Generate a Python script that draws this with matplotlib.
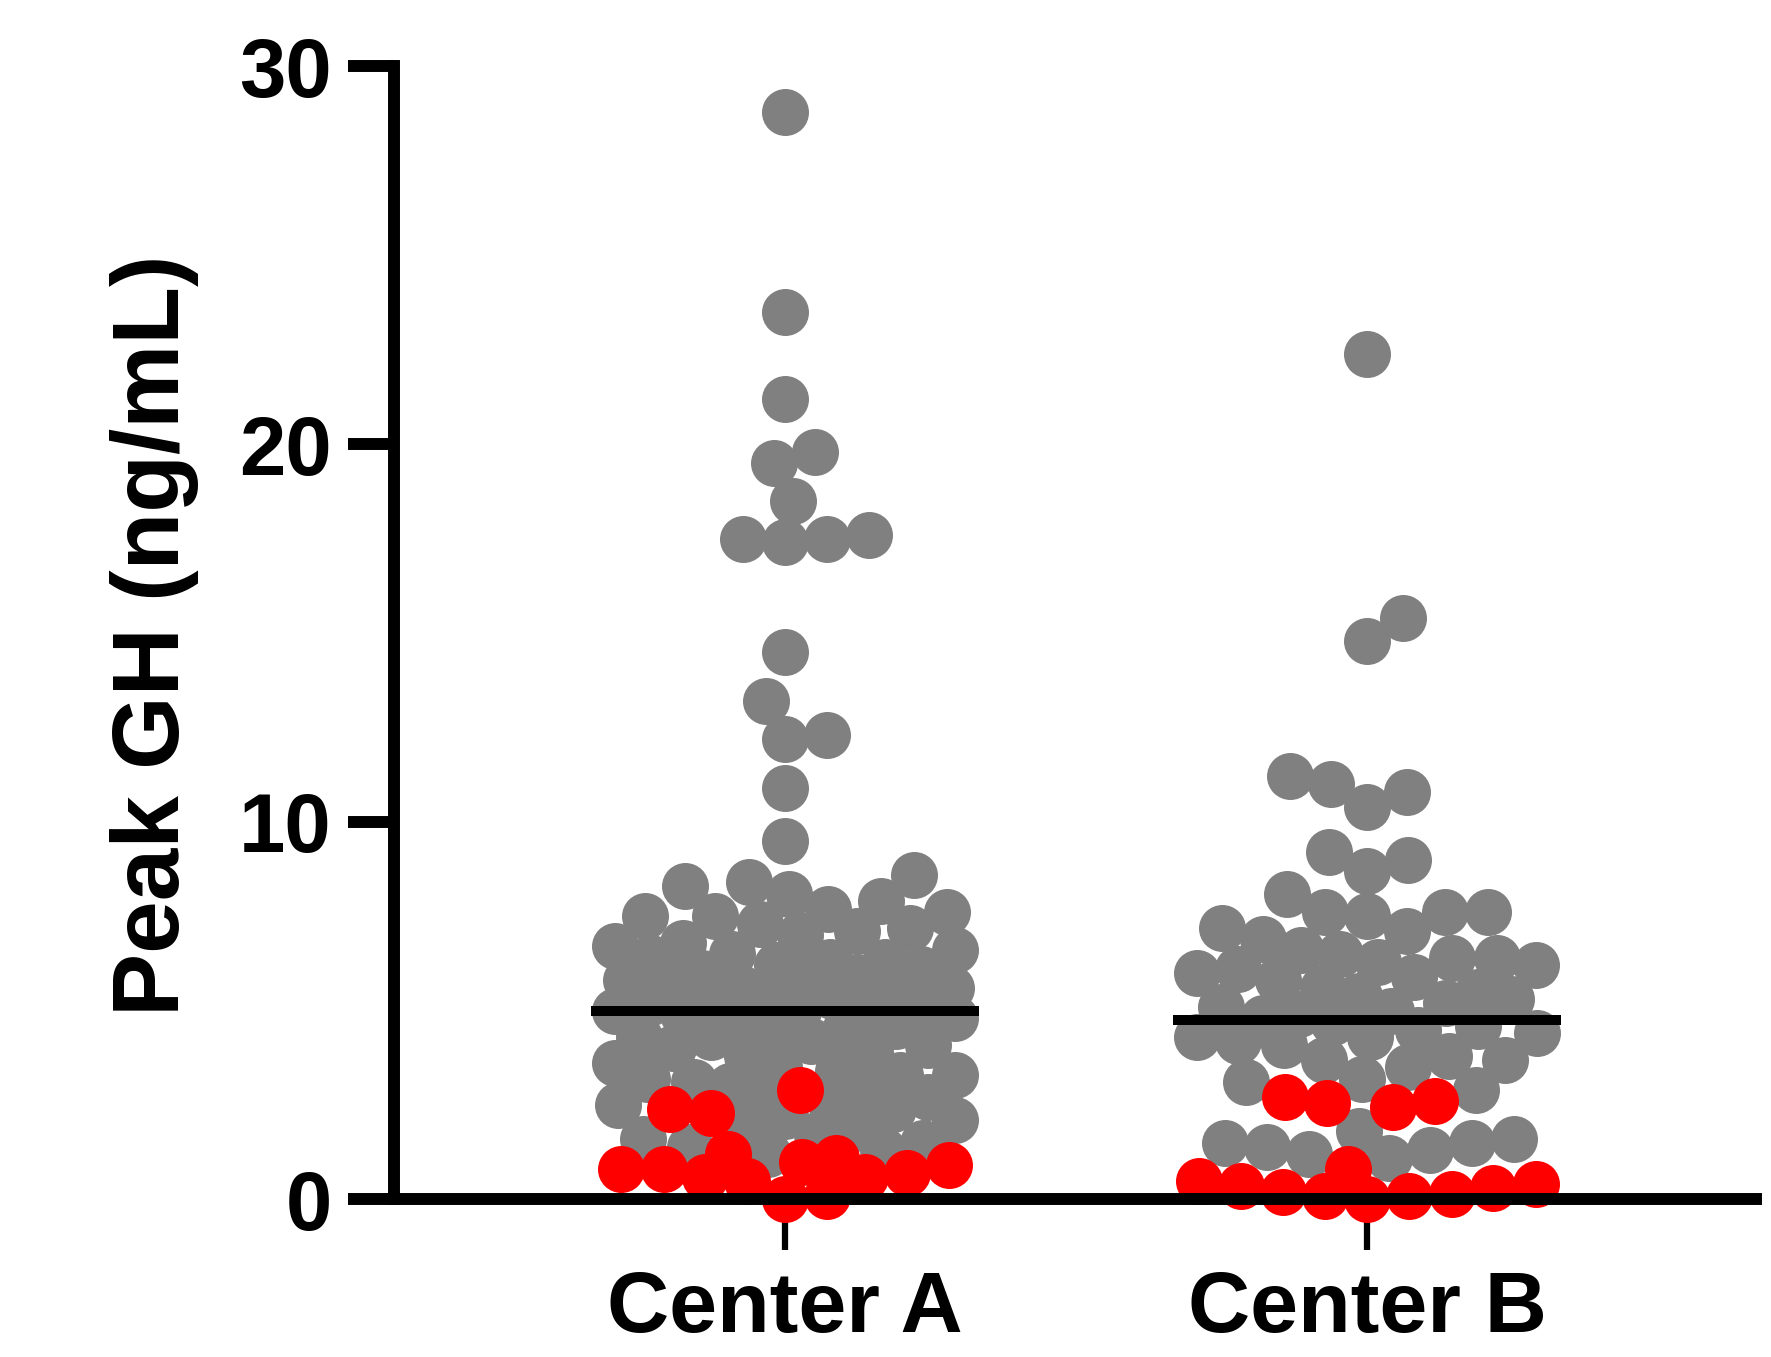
import numpy as np
import matplotlib
matplotlib.use("Agg")
import matplotlib.pyplot as plt

plt.rcParams['font.family'] = ['Liberation Sans', 'DejaVu Sans']
plt.rcParams['font.weight'] = 'bold'

groups = ["Center A", "Center B"]
ylabel = "Peak GH (ng/mL)"
yticks = [0, 10, 20, 30]

# gray = above cutoff, red = below cutoff
a_gray = [28.8, 23.5, 21.2, 19.8, 19.5, 18.5, 17.5, 17.4, 17.6, 17.5, 14.5, 13.2,
          12.2, 12.3, 10.9, 9.5,
          8.6, 8.4, 8.3, 8.1, 7.9,
          7.7, 7.6, 7.5, 7.5, 7.3, 7.2, 7.1, 7.0,
          6.8, 6.7, 6.6, 6.5, 6.4, 6.3, 6.3, 6.2, 6.1, 6.0,
          5.9, 5.8, 5.8, 5.7, 5.6, 5.6, 5.5, 5.4, 5.4, 5.3, 5.2, 5.2, 5.1, 5.0, 5.0,
          4.9, 4.8, 4.7, 4.6, 4.5, 4.4, 4.3, 4.3, 4.2, 4.1, 4.0,
          3.9, 3.8, 3.6, 3.5, 3.4, 3.3, 3.3, 3.2, 3.1, 3.0,
          2.9, 2.8, 2.7, 2.6, 2.5, 2.4, 2.2, 2.1, 2.0,
          1.9, 1.7, 1.6, 1.5, 1.4, 1.3, 1.2]
a_red = [2.9, 2.3, 2.4, 0.5, 0.9, 1.0, 0.8, 0.0, 1.1, 0.6, 0.1, 0.7, 0.6, 0.8, 1.2]

b_gray = [22.4, 15.4, 14.8, 11.2, 11.0, 10.8, 10.4, 9.2, 9.0, 8.7, 8.1,
          7.6, 7.6, 7.5, 7.2, 7.1, 7.6, 6.9,
          6.6, 6.5, 6.4, 6.4, 6.3, 6.2, 6.1, 6.0,
          5.9, 5.8, 5.6, 5.5, 5.4, 5.3, 5.2, 5.1, 5.0, 4.9,
          4.8, 4.7, 4.6, 4.5, 4.4, 4.3, 4.3, 4.2, 4.1,
          3.8, 3.7, 3.7, 3.5, 3.2, 3.1, 2.9,
          1.8, 1.6, 1.5, 1.5, 1.4, 1.3, 1.2, 1.1]
b_red = [2.45, 2.55, 2.7, 2.6, 0.1, 0.35, 0.8, 0.0, 0.4, 0.2, 0.15, 0.1, 0.3, 0.5]

GRAY = "#808080"
RED = "#ff0000"
DOT_PX = 47.0


# simple beeswarm in pixel space, overlap allowed when the row gets too wide
def swarm(ypx, diam, max_half, frac=0.9):
    dmin = diam * frac
    order = np.argsort(ypx)
    offs = np.zeros(len(ypx))
    px, py = [], []
    grid = np.linspace(-max_half, max_half, 161)
    for i in order:
        y = ypx[i]
        x = 0.0
        if px:
            ax_ = np.array(px)
            ay_ = np.array(py)
            near = np.abs(ay_ - y) < dmin
            if near.any():
                nx, ny = ax_[near], ay_[near]
                dx = np.sqrt(dmin**2 - (ny - y)**2)
                cands = np.concatenate([[0.0], nx + dx, nx - dx])
                cands = cands[np.argsort(np.abs(cands))]
                found = False
                for c in cands:
                    if abs(c) > max_half:
                        continue
                    d = np.hypot(nx - c, ny - y)
                    if np.all(d >= dmin - 1e-6):
                        x = c
                        found = True
                        break
                if not found:
                    best = -1
                    for c in grid:
                        d = np.min(np.hypot(nx - c, ny - y)) - abs(c) * 0.02
                        if d > best:
                            best = d
                            x = c
        offs[i] = x
        px.append(x)
        py.append(y)
    return offs


fig = plt.figure(figsize=(17.71, 13.57), dpi=100)
ax = fig.add_axes([0.2225, 0.1161, 0.769, 0.8349])
ax.set_xlim(0.328, 2.668)
ax.set_ylim(0, 30)

for k, (gray, red) in enumerate([(a_gray, a_red), (b_gray, b_red)]):
    pos = k + 1
    vals = np.array(gray + red, dtype=float)
    cols = np.array([GRAY] * len(gray) + [RED] * len(red))
    pts = ax.transData.transform(np.column_stack([np.full(len(vals), pos), vals]))
    offs = swarm(pts[:, 1], DOT_PX, 170)
    xs = ax.transData.inverted().transform(np.column_stack([pts[:, 0] + offs, pts[:, 1]]))[:, 0]
    g = cols == GRAY
    s = (DOT_PX * 72 / 100) ** 2
    ax.scatter(xs[g], vals[g], s=s, color=GRAY, lw=0, zorder=3, clip_on=False)
    ax.scatter(xs[~g], vals[~g], s=s, color=RED, lw=0, zorder=4, clip_on=False)
    med = np.median(vals)
    ax.plot([pos - 0.333, pos + 0.333], [med, med], color="black", lw=7.2,
            solid_capstyle="butt", zorder=5)

for side in ["top", "right"]:
    ax.spines[side].set_visible(False)
ax.spines["left"].set_linewidth(8.6)
ax.spines["bottom"].set_linewidth(8.6)
ax.spines["left"].set_capstyle("projecting")
ax.spines["bottom"].set_zorder(6)

ax.set_yticks(yticks)
ax.set_yticklabels([str(t) for t in yticks])
ax.set_xticks([1, 2])
ax.set_xticklabels(groups)
ax.tick_params(axis="y", length=33, width=8.6, labelsize=60, pad=12)
ax.tick_params(axis="x", length=37, width=4.5, labelsize=62, pad=14)

fig.text(155 / 1771, 1 - 635 / 1357, ylabel, rotation=90, ha="center", va="center",
         fontsize=68, fontweight="bold")

fig.savefig("out.png", dpi=100)
